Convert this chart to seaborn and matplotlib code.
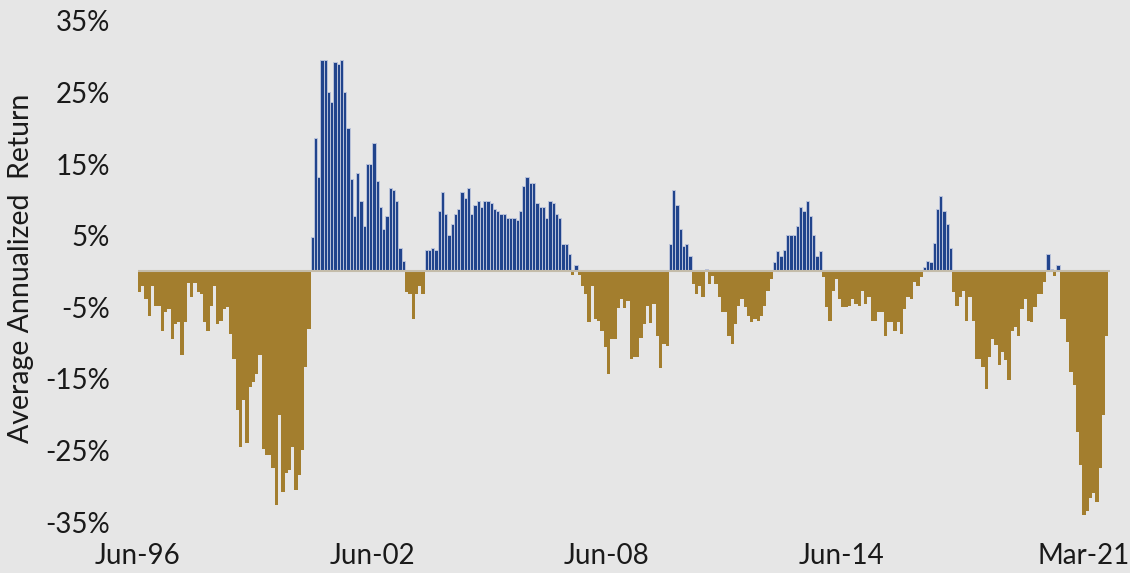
import numpy as np
import pandas as pd
import matplotlib
matplotlib.use("Agg")
import matplotlib.pyplot as plt
import seaborn as sns

# Average annualized return by month, Jun-96 .. Mar-21 (values in %)
ret_96_02 = [-2.9, -2.0, -3.8, -6.2, -2.0, -4.8, -4.8, -8.3, -5.6, -5.3,
             -9.5, -7.4, -7.1, -11.6, -7.1, -1.6, -3.5, -1.6, -2.9, -3.2,
             -7.1, -8.3, -4.8, -2.0, -7.4, -6.9, -5.3, -5.0, -8.7, -12.2,
             -19.3, -24.5, -17.9, -23.9, -16.1, -15.5, -14.3, -11.6, -24.8, -25.6,
             -25.6, -27.4, -32.6, -20.0, -30.8, -28.1, -27.7, -24.5, -30.5, -28.4,
             -25.0, -13.4, -8.0, 4.8, 18.6, 13.2, 29.6, 29.6, 25.1, 23.7,
             29.3, 29.0, 29.6, 25.1, 20.0, 12.9, 7.8, 13.8, 9.9, 6.3,
             15.0, 15.0]
ret_02_08 = [17.9, 12.6, 9.0, 6.0, 7.8, 11.7, 11.4, 9.9, 3.3, 1.5,
             -2.9, -3.2, -6.6, -3.2, -2.0, -3.2, 3.0, 3.0, 3.3, 3.0,
             8.4, 11.1, 8.1, 5.1, 6.6, 8.1, 8.7, 11.1, 10.2, 11.7,
             8.1, 9.3, 9.9, 9.0, 9.9, 9.9, 9.6, 8.7, 8.4, 8.1,
             8.1, 7.5, 7.5, 7.5, 7.2, 8.4, 12.0, 13.2, 12.3, 12.3,
             9.6, 9.0, 9.0, 7.5, 9.9, 9.6, 8.1, 7.5, 3.9, 3.9,
             2.4, -0.5, 0.9, -0.5, -2.0, -3.2, -7.1, -2.0, -6.6, -6.9,
             -8.3, -10.6]
ret_08_14 = [-14.3, -9.5, -9.5, -5.1, -3.8, -5.1, -4.1, -12.2, -11.9, -11.9,
             -9.3, -7.4, -4.8, -7.2, -4.5, -9.0, -13.5, -10.1, -10.4, 3.9,
             11.4, 9.3, 6.0, 3.6, 3.9, 2.2, -1.7, -3.2, -2.0, -3.5,
             0.4, -1.7, -0.6, -1.7, -3.5, -5.6, -5.6, -9.0, -10.1, -7.4,
             -4.8, -3.8, -5.0, -6.2, -7.1, -6.7, -6.9, -6.2, -4.8, -2.7,
             -1.1, 1.3, 2.8, 2.1, 3.0, 5.1, 5.1, 5.1, 6.3, 9.0,
             8.4, 9.9, 7.8, 5.1, 2.1, 2.8, -0.8, -5.0, -6.9, -2.7,
             -1.1, -3.8]
ret_14_21 = [-5.0, -5.0, -4.8, -3.8, -4.5, -4.8, -2.7, -4.5, -3.5, -6.9,
             -6.9, -5.6, -5.6, -9.0, -7.1, -7.1, -8.3, -7.1, -8.7, -5.3,
             -3.5, -3.8, -1.4, -2.0, -0.8, 0.6, 1.5, 1.3, 4.0, 8.7,
             10.5, 8.4, 6.6, 3.3, -2.9, -4.8, -3.5, -2.7, -6.9, -3.5,
             -6.9, -12.2, -12.2, -13.4, -16.4, -11.9, -9.5, -10.3, -13.1, -11.3,
             -12.4, -15.2, -8.3, -7.7, -9.0, -5.3, -3.8, -6.9, -7.1, -5.0,
             -3.2, -3.2, -1.4, 2.4, 0.3, -0.6, 0.9, -6.6, -6.6, -9.8,
             -14.0, -15.8, -22.4, -27.1, -34.0, -33.4, -31.6, -31.0, -32.2, -27.4,
             -20.0, -9.0]

x_labels = ["Jun-96", "Jun-02", "Jun-08", "Jun-14", "Mar-21"]
y_ticks = [35, 25, 15, 5, -5, -15, -25, -35]

BG = "#e6e6e6"
BLUE = "#21448c"
GOLD = "#a37e2e"

values = np.array(ret_96_02 + ret_02_08 + ret_08_14 + ret_14_21)
months = pd.date_range("1996-06-01", "2021-03-01", freq="MS").strftime("%b-%y")
df = pd.DataFrame({"idx": np.arange(len(values)), "ret": values,
                   "sign": np.where(values > 0, "pos", "neg")})

sns.set_style("white", {"axes.facecolor": BG, "figure.facecolor": BG})
plt.rcParams["font.family"] = ["Lato", "DejaVu Sans"]

fig = plt.figure(figsize=(11.3, 5.73), dpi=100)
ax = fig.add_axes([0.1221, 0.0890, 0.8602, 0.8744])

sns.barplot(data=df, x="idx", y="ret", hue="sign",
            palette={"pos": BLUE, "neg": GOLD}, dodge=False, width=1.0,
            native_scale=True, saturation=1, errorbar=None, legend=False, ax=ax)

# light outline on the positive bars
for p in ax.patches:
    if p.get_height() > 0:
        p.set_edgecolor("#b9c2da")
        p.set_linewidth(0.7)
    else:
        p.set_edgecolor("none")

ax.axhline(0, color="#c4bcaa", lw=1.5, zorder=3)

ax.set_ylim(-35, 35)
ax.set_xlim(-0.5, 298)
ax.set_yticks(y_ticks)
ax.set_yticklabels([f"{t}%" for t in y_ticks])

tick_pos = [list(months).index(m) - 0.5 for m in x_labels]
tick_pos[-1] -= 6.5  # pull the last label in so it fits
ax.set_xticks(tick_pos)
ax.set_xticklabels(x_labels)

ax.tick_params(axis="both", length=0, labelsize=20, colors="#1a1a1a")
ax.tick_params(axis="y", pad=20)
ax.tick_params(axis="x", pad=15)
ax.set_xlabel("")
ax.set_ylabel("")
for s in ax.spines.values():
    s.set_visible(False)

fig.text(0.0186, 0.532, "Average Annualized  Return", rotation=90,
         ha="center", va="center", fontsize=20.5, color="#1a1a1a")

fig.savefig("out.png", dpi=100, facecolor=BG)
